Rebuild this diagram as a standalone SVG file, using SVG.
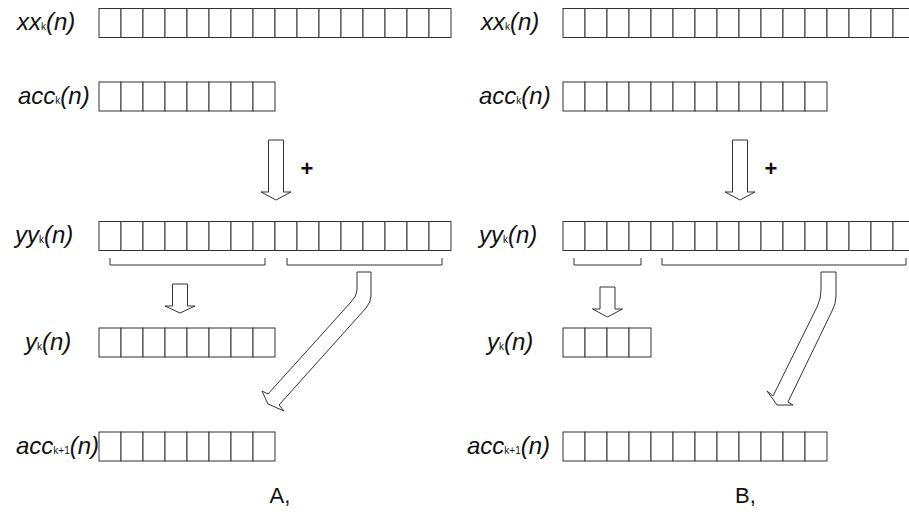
<svg xmlns="http://www.w3.org/2000/svg" xmlns:xlink="http://www.w3.org/1999/xlink" width="909" height="521" viewBox="0 0 909 521">
<style>
.cell{fill:#fff;stroke:#333;stroke-width:1}
.lbl{font-family:"Liberation Sans",Arial,sans-serif;font-style:italic;font-size:24px;fill:#111}
.sub{font-size:10px;font-style:normal}
.sym{font-family:"Liberation Sans",Arial,sans-serif;font-size:22px;font-weight:bold;fill:#111}
.cap{font-family:"Liberation Sans",Arial,sans-serif;font-size:22px;fill:#111}
.arr{fill:#fff;stroke:#333;stroke-width:1;stroke-linejoin:miter}
.brk{fill:none;stroke:#333;stroke-width:1}
</style>
<defs>
<rect id="c" class="cell" width="22" height="29"/>
<g id="c4"><use xlink:href="#c" x="0"/><use xlink:href="#c" x="22"/><use xlink:href="#c" x="44"/><use xlink:href="#c" x="66"/></g>
<g id="c8"><use xlink:href="#c4" x="0"/><use xlink:href="#c4" x="88"/></g>
<g id="c12"><use xlink:href="#c8" x="0"/><use xlink:href="#c4" x="176"/></g>
<g id="c16"><use xlink:href="#c8" x="0"/><use xlink:href="#c8" x="176"/></g>
</defs>
<rect width="909" height="521" fill="#fff"/>

<g id="A-xx">
<text class="lbl" x="17" y="30">xx<tspan class="sub">k</tspan>(n)</text>
<use xlink:href="#c16" x="99" y="8.5"/>
</g>
<g id="A-acc">
<text class="lbl" x="18" y="103.5">acc<tspan class="sub">k</tspan>(n)</text>
<use xlink:href="#c8" x="99" y="82"/>
</g>
<g id="A-yy">
<text class="lbl" x="15" y="243">yy<tspan class="sub">k</tspan>(n)</text>
<use xlink:href="#c16" x="99" y="221.5"/>
</g>
<g id="A-y">
<text class="lbl" x="25" y="349.5">y<tspan class="sub">k</tspan>(n)</text>
<use xlink:href="#c8" x="99" y="328"/>
</g>
<g id="A-acc1">
<text class="lbl" x="16" y="453.5">acc<tspan class="sub">k+1</tspan>(n)</text>
<use xlink:href="#c8" x="99" y="432"/>
</g>
<text id="A-cap" class="cap" x="280" y="503" text-anchor="middle">A,</text>

<g id="B-xx">
<text class="lbl" x="481" y="30">xx<tspan class="sub">k</tspan>(n)</text>
<use xlink:href="#c16" x="563" y="8.5"/>
</g>
<g id="B-acc">
<text class="lbl" x="479" y="103.5">acc<tspan class="sub">k</tspan>(n)</text>
<use xlink:href="#c12" x="563" y="82"/>
</g>
<g id="B-yy">
<text class="lbl" x="479" y="243">yy<tspan class="sub">k</tspan>(n)</text>
<use xlink:href="#c16" x="563" y="221.5"/>
</g>
<g id="B-y">
<text class="lbl" x="487" y="349.5">y<tspan class="sub">k</tspan>(n)</text>
<use xlink:href="#c4" x="563" y="328"/>
</g>
<g id="B-acc1">
<text class="lbl" x="467" y="453.5">acc<tspan class="sub">k+1</tspan>(n)</text>
<use xlink:href="#c12" x="563" y="432"/>
</g>
<text id="B-cap" class="cap" x="745.5" y="503" text-anchor="middle">B,</text>

<g id="connectors">
<path class="arr" d="M268.5,140 H283.5 V192 H291 L276,200 L261,192 H268.5 Z"/>
<text class="sym" x="307" y="175.5" text-anchor="middle">+</text>
<path class="brk" d="M110,258 V265 H265 V258 M287,258 V265 H442 V258"/>
<path class="arr" d="M172.5,284 H187.5 V306 H195 L180,313 L165,306 H172.5 Z"/>
<path class="arr" d="M357,272 H371 V296 Q371,302 366,308 L279,405 L284,411 L268,404 L262,391 L268,394 L351,302 Q357,296 357,290 Z"/>

<path class="arr" d="M732.5,140 H747.5 V192 H755 L740,200 L725,192 H732.5 Z"/>
<text class="sym" x="771" y="175.5" text-anchor="middle">+</text>
<path class="brk" d="M574,258 V265 H641 V258 M662,258 V265 H906 V258"/>
<path class="arr" d="M600,287 H615 V309 H622.5 L607.5,317 L592.5,309 H600 Z"/>
<path class="arr" d="M821,272 H836 V296 Q836,304 832,311 L788,402 L793,405 L777,405 L767,391 L773,396 L817.5,306 Q821,298 821,290 Z"/>
</g>
</svg>
